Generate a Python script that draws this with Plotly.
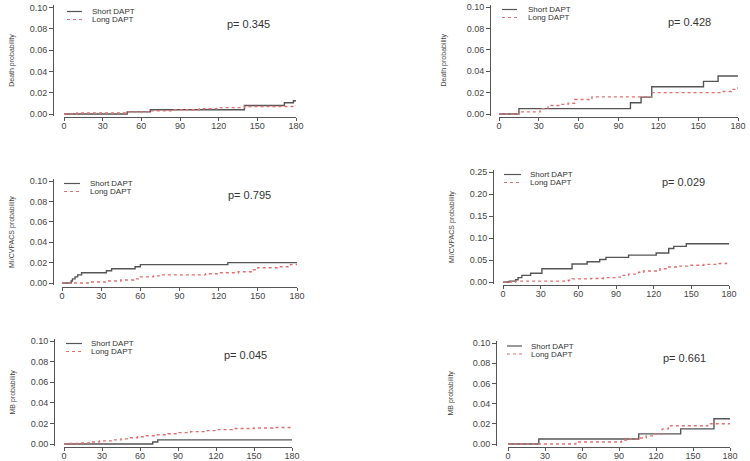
import plotly.graph_objects as go

W, H = 750, 461

# ---- data (days, cumulative probability) ----
death_l_short_t = [0, 49, 67, 140, 171, 178, 180]
death_l_short_p = [0, 0.002, 0.004, 0.008, 0.0105, 0.0125, 0.0125]
death_l_long_t = [0, 10, 48, 66, 85, 105, 120, 140, 180]
death_l_long_p = [0, 0.001, 0.002, 0.003, 0.004, 0.005, 0.006, 0.007, 0.008]

death_r_short_t = [0, 15, 99, 107, 115, 154, 165, 180]
death_r_short_p = [0, 0.005, 0.0105, 0.0158, 0.0255, 0.0305, 0.0355, 0.0355]
death_r_long_t = [0, 15, 31, 37, 46, 52, 57, 70, 115, 168, 175, 180]
death_r_long_p = [0, 0.002, 0.005, 0.008, 0.009, 0.010, 0.0135, 0.016, 0.020, 0.021, 0.023, 0.025]

mi_l_short_t = [0, 7, 8, 10, 12, 15, 34, 38, 56, 60, 127, 180]
mi_l_short_p = [0, 0.002, 0.004, 0.006, 0.008, 0.010, 0.012, 0.014, 0.016, 0.018, 0.020, 0.020]
mi_l_long_t = [0, 20, 35, 45, 55, 60, 70, 75, 110, 120, 135, 145, 150, 165, 175, 180]
mi_l_long_p = [0, 0.001, 0.002, 0.003, 0.004, 0.006, 0.007, 0.008, 0.009, 0.010, 0.011, 0.013,
               0.015, 0.016, 0.018, 0.019]

mi_r_short_t = [0, 5, 10, 12, 15, 22, 31, 55, 67, 77, 82, 100, 122, 132, 136, 146, 180]
mi_r_short_p = [0, 0.002, 0.005, 0.010, 0.015, 0.020, 0.030, 0.041, 0.046, 0.051, 0.056, 0.061,
                0.066, 0.076, 0.081, 0.087, 0.087]
mi_r_long_t = [0, 10, 52, 55, 70, 80, 90, 95, 100, 108, 112, 125, 130, 140, 148, 160, 170, 178, 180]
mi_r_long_p = [0, 0.002, 0.004, 0.007, 0.008, 0.010, 0.011, 0.015, 0.018, 0.022, 0.025, 0.030,
               0.034, 0.036, 0.038, 0.040, 0.042, 0.045, 0.045]

mb_l_short_t = [0, 70, 74, 180]
mb_l_short_p = [0, 0.002, 0.004, 0.004]
mb_l_long_t = [0, 5, 12, 20, 28, 38, 45, 50, 58, 65, 73, 82, 91, 100, 112, 122, 133, 150, 165, 180]
mb_l_long_p = [0, 0.0005, 0.001, 0.002, 0.003, 0.004, 0.005, 0.006, 0.007, 0.008, 0.009, 0.010,
               0.011, 0.012, 0.013, 0.014, 0.015, 0.0155, 0.016, 0.0165]

mb_r_short_t = [0, 25, 106, 140, 167, 180]
mb_r_short_p = [0, 0.005, 0.010, 0.015, 0.025, 0.025]
mb_r_long_t = [0, 55, 92, 97, 105, 112, 118, 125, 130, 162, 180]
mb_r_long_p = [0, 0.002, 0.004, 0.005, 0.006, 0.008, 0.010, 0.015, 0.018, 0.020, 0.020]

x_ticks = [0, 30, 60, 90, 120, 150, 180]
series_names = ["Short DAPT", "Long DAPT"]

panels = [
    dict(short=(death_l_short_t, death_l_short_p), long=(death_l_long_t, death_l_long_p),
         ylabel="Death probability", p="p= 0.345", ymax=0.10, dtick=0.02),
    dict(short=(death_r_short_t, death_r_short_p), long=(death_r_long_t, death_r_long_p),
         ylabel="Death probability", p="p= 0.428", ymax=0.10, dtick=0.02),
    dict(short=(mi_l_short_t, mi_l_short_p), long=(mi_l_long_t, mi_l_long_p),
         ylabel="MI/CVPACS probability", p="p= 0.795", ymax=0.10, dtick=0.02),
    dict(short=(mi_r_short_t, mi_r_short_p), long=(mi_r_long_t, mi_r_long_p),
         ylabel="MI/CVPACS probability", p="p= 0.029", ymax=0.25, dtick=0.05),
    dict(short=(mb_l_short_t, mb_l_short_p), long=(mb_l_long_t, mb_l_long_p),
         ylabel="MB probability", p="p= 0.045", ymax=0.10, dtick=0.02),
    dict(short=(mb_r_short_t, mb_r_short_p), long=(mb_r_long_t, mb_r_long_p),
         ylabel="MB probability", p="p= 0.661", ymax=0.10, dtick=0.02),
]

# pixel geometry of each panel: y-axis line x, x of day 0, x of day 180,
# y of 0, y of top tick, x-axis line y, y-label x, p-value centre,
# legend sample line x-range, legend text x, legend rows y
geom = [
    dict(yax=53, x0=64, x1=296, y0=114, y1=7.5, xax=117, ylab=12, p=(248, 24),
         lx=(67, 82), tx=90, ly=(11.5, 19.5)),
    dict(yax=490, x0=499, x1=738, y0=114, y1=7, xax=117, ylab=443, p=(689, 22),
         lx=(502, 517), tx=526, ly=(9.5, 17.5)),
    dict(yax=53, x0=62, x1=297, y0=283, y1=181, xax=287, ylab=12, p=(249, 195),
         lx=(64, 80), tx=88, ly=(183.5, 191.5)),
    dict(yax=493, x0=503, x1=729, y0=282, y1=172, xax=285, ylab=452, p=(683, 182),
         lx=(504, 521), tx=528, ly=(174.5, 182.5)),
    dict(yax=54, x0=64, x1=292, y0=444, y1=341, xax=447, ylab=12, p=(245, 355),
         lx=(66, 82), tx=89, ly=(343.5, 351.5)),
    dict(yax=496, x0=508, x1=730, y0=444, y1=343, xax=447, ylab=450, p=(684, 358),
         lx=(507, 522), tx=529, ly=(346, 354)),
]

SHORT_COL = "#555555"
LONG_COL = "#e07070"
AX_COL = "#555555"
FONT = "Liberation Sans, Arial, sans-serif"
STYLES = [("short", SHORT_COL, "solid"), ("long", LONG_COL, "3px,3px")]

fig = go.Figure()
annotations = []
shapes = []
layout = dict(
    width=W, height=H,
    margin=dict(l=0, r=0, t=0, b=0, autoexpand=False),
    plot_bgcolor="white", paper_bgcolor="white",
    font=dict(family=FONT, size=9, color="#444444"),
    showlegend=False,
)

for i, (pan, g) in enumerate(zip(panels, geom), start=1):
    sfx = "" if i == 1 else str(i)
    for name, (key, col, dash) in zip(series_names, STYLES):
        t, p = pan[key]
        fig.add_trace(go.Scatter(
            x=t, y=p, mode="lines", name=name, line_shape="hv",
            line=dict(color=col, width=1.4, dash=dash),
            xaxis=f"x{sfx}", yaxis=f"y{sfx}",
        ))

    ymax = pan["ymax"]
    pad = ymax * 0.02
    ppu = (g["y0"] - g["y1"]) / ymax
    ybot = g["y0"] + pad * ppu
    ytop = g["y1"] - pad * ppu

    layout[f"xaxis{sfx}"] = dict(
        domain=[g["x0"] / W, g["x1"] / W], range=[0, 180],
        anchor="free", position=1 - g["xax"] / H, automargin=False,
        tickvals=x_ticks, showgrid=False, zeroline=False,
        showline=True, linecolor=AX_COL, linewidth=1,
        ticks="outside", ticklen=3, tickcolor=AX_COL,
        ticklabelstandoff=-3,
        tickfont=dict(size=9, color="#444444"),
    )
    layout[f"yaxis{sfx}"] = dict(
        domain=[1 - ybot / H, 1 - ytop / H], range=[-pad, ymax + pad],
        anchor="free", position=g["yax"] / W, automargin=False,
        dtick=pan["dtick"], tick0=0, tickformat=".2f",
        showgrid=False, zeroline=False,
        showline=True, linecolor=AX_COL, linewidth=1,
        ticks="outside", ticklen=4, tickcolor=AX_COL,
        tickfont=dict(size=9, color="#444444"),
    )

    # legend drawn as sample lines + text
    for name, (key, col, dash), ly in zip(series_names, STYLES, g["ly"]):
        shapes.append(dict(
            type="line", xref="paper", yref="paper",
            x0=g["lx"][0] / W, x1=g["lx"][1] / W, y0=1 - ly / H, y1=1 - ly / H,
            line=dict(color=col, width=1.2, dash=dash),
        ))
        annotations.append(dict(
            text=name, x=g["tx"] / W, y=1 - ly / H, xref="paper", yref="paper",
            showarrow=False, xanchor="left", yanchor="middle",
            font=dict(size=8, color="#333333"),
        ))

    annotations.append(dict(
        text=pan["ylabel"], x=g["ylab"] / W, y=1 - (g["y0"] + g["y1"]) / 2 / H,
        xref="paper", yref="paper", textangle=-90, showarrow=False,
        font=dict(family="Liberation Sans Narrow, Liberation Sans, sans-serif",
                  size=7, color="#444444"),
        xanchor="center", yanchor="middle",
    ))
    annotations.append(dict(
        text=pan["p"], x=g["p"][0] / W, y=1 - g["p"][1] / H,
        xref="paper", yref="paper", showarrow=False,
        font=dict(size=11, color="#333333"), xanchor="center", yanchor="middle",
    ))

layout["annotations"] = annotations
layout["shapes"] = shapes
fig.update_layout(**layout)

fig.write_html("out.html", config={"displayModeBar": False},
               post_script="document.body.style.margin='0px';")
